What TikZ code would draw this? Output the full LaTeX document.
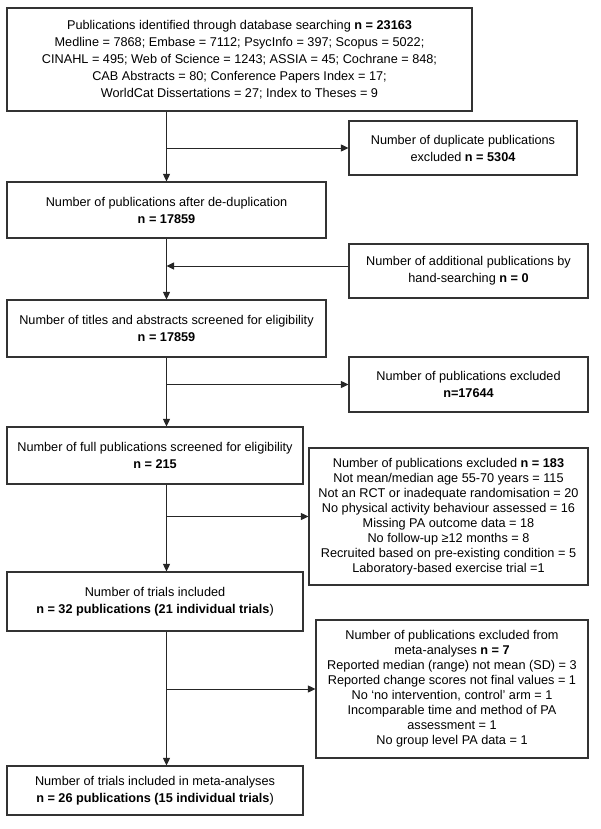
\documentclass[tikz,border=0pt]{standalone}
\usepackage{fontspec}
\setmainfont{Liberation Sans}
\usetikzlibrary{arrows.meta}

\begin{document}
\begin{tikzpicture}[x=1pt, y=-1pt,
                box/.style = {draw=black!80, line width=1.1pt, rectangle, inner sep=0pt,
                              align=center, font=\fontsize{12.7}{17}\selectfont},
                list/.style = {box, font=\fontsize{12.7}{15}\selectfont},
                arr/.style = {draw=black!85, line width=0.9pt, -{Triangle[length=7.5pt,width=7pt]}}
            ]
            \useasboundingbox (0,0) rectangle (600,829);

            % main column
            \node[box, minimum width=465pt, minimum height=103pt] (search) at (239.5,59.5)
                {Publications identified through database searching \textbf{n = 23163}\\
                 Medline = 7868; Embase = 7112; PsycInfo = 397; Scopus = 5022;\\
                 CINAHL = 495; Web of Science = 1243; ASSIA = 45; Cochrane = 848;\\
                 CAB Abstracts = 80; Conference Papers Index = 17;\\
                 WorldCat Dissertations = 27; Index to Theses = 9};
            \node[box, minimum width=319pt, minimum height=56pt] (dedup) at (166.5,210)
                {Number of publications after de-duplication\\ \textbf{n = 17859}};
            \node[box, minimum width=319pt, minimum height=57pt] (screen) at (166.5,328.5)
                {Number of titles and abstracts screened for eligibility\\ \textbf{n = 17859}};
            \node[box, minimum width=296pt, minimum height=57pt] (full) at (155,455.5)
                {Number of full publications screened for eligibility\\ \textbf{n = 215}};
            \node[box, minimum width=296pt, minimum height=59pt] (trials) at (155,601.5)
                {Number of trials included\\ \textbf{n = 32 publications (21 individual trials})};
            \node[box, minimum width=296pt, minimum height=49pt] (meta) at (155,790.5)
                {Number of trials included in meta-analyses\\ \textbf{n = 26 publications (15 individual trials})};

            % side boxes
            \node[box, minimum width=228pt, minimum height=54pt] (dup) at (463,148)
                {Number of duplicate publications\\ excluded \textbf{n = 5304}};
            \node[box, minimum width=239pt, minimum height=54pt] (hand) at (468.5,271)
                {Number of additional publications by\\ hand-searching \textbf{n = 0}};
            \node[box, minimum width=239pt, minimum height=55pt] (excl) at (468.5,384.5)
                {Number of publications excluded\\ \textbf{n=17644}};
            \node[list, minimum width=279pt, minimum height=137pt] (exclfull) at (448.5,516.5)
                {Number of publications excluded \textbf{n = 183}\\
                 Not mean/median age 55-70 years = 115\\
                 Not an RCT or inadequate randomisation = 20\\
                 No physical activity behaviour assessed = 16\\
                 Missing PA outcome data = 18\\
                 No follow-up ≥12 months = 8\\
                 Recruited based on pre-existing condition = 5\\
                 Laboratory-based exercise trial =1};
            \node[list, minimum width=272pt, minimum height=138pt] (exclmeta) at (452,689)
                {Number of publications excluded from\\
                 meta-analyses \textbf{n = 7}\\
                 Reported median (range) not mean (SD) = 3\\
                 Reported change scores not final values = 1\\
                 No ‘no intervention, control’ arm = 1\\
                 Incomparable time and method of PA\\
                 assessment = 1\\
                 No group level PA data = 1};
            \coordinate (handin) at ([yshift=5pt]hand.west);

            % flow down the column
            \draw[arr] (dedup.north |- search.south) -- (dedup.north);
            \draw[arr] (dedup.south) -- (screen.north);
            \draw[arr] (screen.south) -- (screen.south |- full.north);
            \draw[arr] (screen.south |- full.south) -- (screen.south |- trials.north);
            \draw[arr] (screen.south |- trials.south) -- (screen.south |- meta.north);

            % branches to the side
            \draw[arr] (dedup.north |- dup.west) -- (dup.west);
            \draw[arr] (handin) -- (dedup.south |- handin);
            \draw[arr] (screen.south |- excl.west) -- (excl.west);
            \draw[arr] (screen.south |- exclfull.west) -- (exclfull.west);
            \draw[arr] (screen.south |- exclmeta.west) -- (exclmeta.west);
        \end{tikzpicture}
\end{document}
